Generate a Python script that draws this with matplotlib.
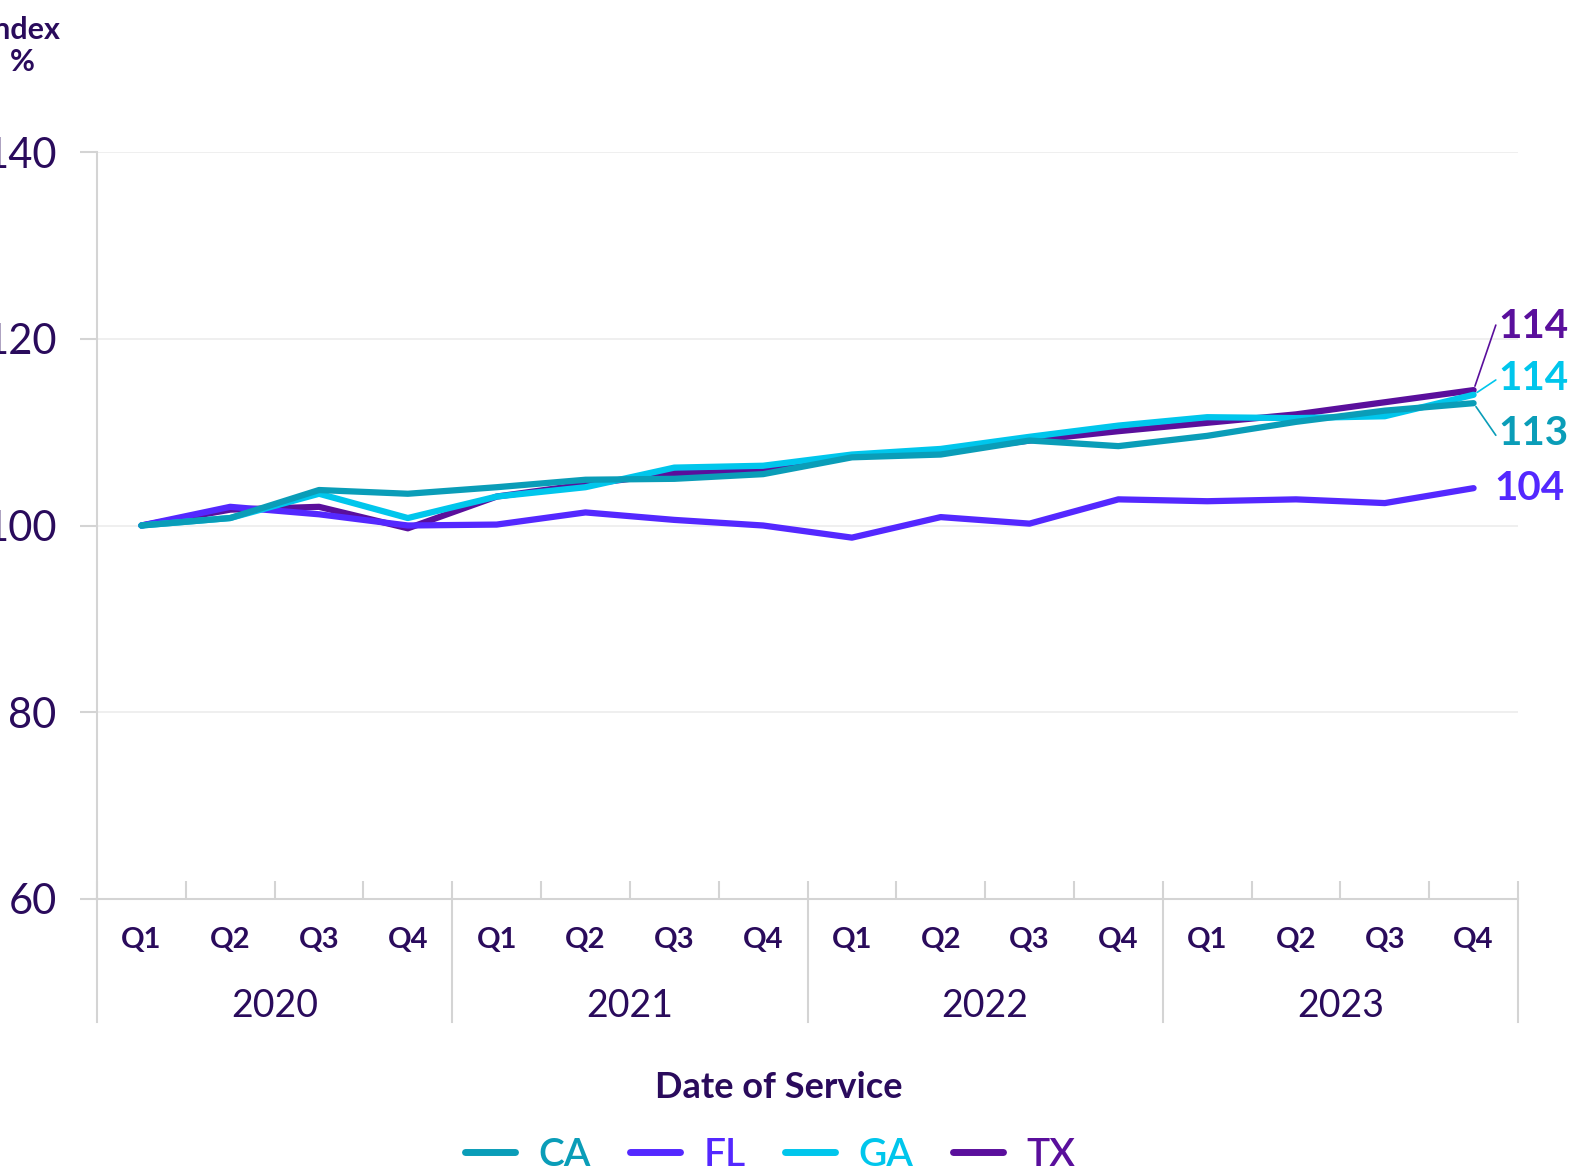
import matplotlib
matplotlib.use('Agg')
import matplotlib.pyplot as plt
import matplotlib.transforms as mtransforms

plt.rcParams['font.family'] = ['Lato', 'DejaVu Sans']

quarters = ['Q1', 'Q2', 'Q3', 'Q4'] * 4
years = ['2020', '2021', '2022', '2023']

states = ['CA', 'FL', 'GA', 'TX']
ca = [100, 100.8, 103.8, 103.4, 104.1, 104.9, 105.0, 105.5, 107.3, 107.6, 109.1, 108.5, 109.6, 111.1, 112.3, 113.1]
fl = [100, 102.0, 101.2, 100.0, 100.1, 101.4, 100.6, 100.0, 98.7, 100.9, 100.2, 102.8, 102.6, 102.8, 102.4, 104.0]
ga = [100, 100.8, 103.4, 100.8, 103.1, 104.1, 106.2, 106.4, 107.6, 108.2, 109.5, 110.7, 111.6, 111.5, 111.7, 114.0]
tx = [100, 101.7, 102.0, 99.7, 103.1, 104.4, 105.6, 105.8, 107.5, 107.9, 109.1, 110.1, 111.0, 111.9, 113.2, 114.5]
end_labels = ['113', '104', '114', '114']

colors = {'CA': '#0a9db8', 'FL': '#5428ff', 'GA': '#00c6ec', 'TX': '#5a0f9c'}
TEXT = '#2a0b5c'
GRID = '#ececec'
SPINE = '#d4d4d4'

series = {'CA': ca, 'FL': fl, 'GA': ga, 'TX': tx}

fig = plt.figure(figsize=(15.76, 11.73), dpi=100)
ax = fig.add_axes([97 / 1576, 1 - 899 / 1173, (1518 - 97) / 1576, (899 - 152) / 1173])

x = list(range(len(quarters)))
lines = {}
for s in ['TX', 'FL', 'GA', 'CA']:
    ln, = ax.plot(x, series[s], color=colors[s], lw=4.5, solid_capstyle='round',
                  solid_joinstyle='round', label=s)
    lines[s] = ln

ax.set_xlim(-0.5, 15.5)
ax.set_ylim(60, 140)
ax.set_yticks([60, 80, 100, 120, 140])
ax.grid(axis='y', color=GRID, lw=1.2)
ax.set_axisbelow(True)

ax.set_xticks(x)
ax.set_xticklabels(quarters, fontsize=21, fontweight='bold', color=TEXT)
ax.set_xticks([i - 0.5 for i in range(17)], minor=True)
ax.tick_params(axis='x', which='major', length=0, pad=20)
ax.tick_params(axis='x', which='minor', length=13, direction='in', color=SPINE, width=1.5)
ax.tick_params(axis='y', length=12, color=SPINE, width=1.5, labelsize=30, labelcolor=TEXT, pad=17)

for side in ['top', 'right']:
    ax.spines[side].set_visible(False)
for side in ['left', 'bottom']:
    ax.spines[side].set_color(SPINE)
    ax.spines[side].set_linewidth(1.5)

# year groups under the quarter labels
trans = mtransforms.blended_transform_factory(ax.transData, ax.transAxes)
for k in range(5):
    ax.plot([4 * k - 0.5, 4 * k - 0.5], [0, -0.165], transform=trans, color=SPINE,
            lw=1.5, clip_on=False)
for k, yr in enumerate(years):
    ax.text(4 * k + 1.5, -0.143, yr, transform=trans, ha='center', va='center',
            fontsize=27, color=TEXT)

# end labels with leader lines
offsets = {'TX': (18, 46), 'GA': (18, 12), 'CA': (18, -22), 'FL': (15, 0)}
relpos = {'TX': (0, 0.75), 'GA': (0, 0.5), 'CA': (0, 0.35), 'FL': (0, 0.5)}
for s, lab in zip(states, end_labels):
    arrow = None
    if s != 'FL':
        arrow = dict(arrowstyle='-', color=colors[s], lw=1.2, shrinkA=0, shrinkB=3,
                     relpos=relpos[s])
    ax.annotate(lab, xy=(x[-1], series[s][-1]), xytext=offsets[s], textcoords='offset points',
                ha='left', va='center', fontsize=29, fontweight='bold', color=colors[s],
                arrowprops=arrow, annotation_clip=False)

fig.text(22 / 1576, 1 - 46 / 1173, 'Index\n%', ha='center', va='center', fontsize=22,
         fontweight='bold', color=TEXT, linespacing=1.2)
fig.text(779 / 1576, 1 - 1088 / 1173, 'Date of Service', ha='center', va='center',
         fontsize=26, fontweight='bold', color=TEXT)

handles = [lines[s] for s in states]
leg = fig.legend(handles, states, loc='center', bbox_to_anchor=(770 / 1576, 1 - 1155 / 1173),
                 ncol=4, frameon=False, prop={'size': 28, 'weight': 'semibold'},
                 handlelength=1.3, columnspacing=1.0, handletextpad=0.6, labelcolor='linecolor')
for h in leg.legend_handles:
    h.set_linewidth(5)
    h.set_solid_capstyle('round')

fig.savefig('out.png', dpi=100)
